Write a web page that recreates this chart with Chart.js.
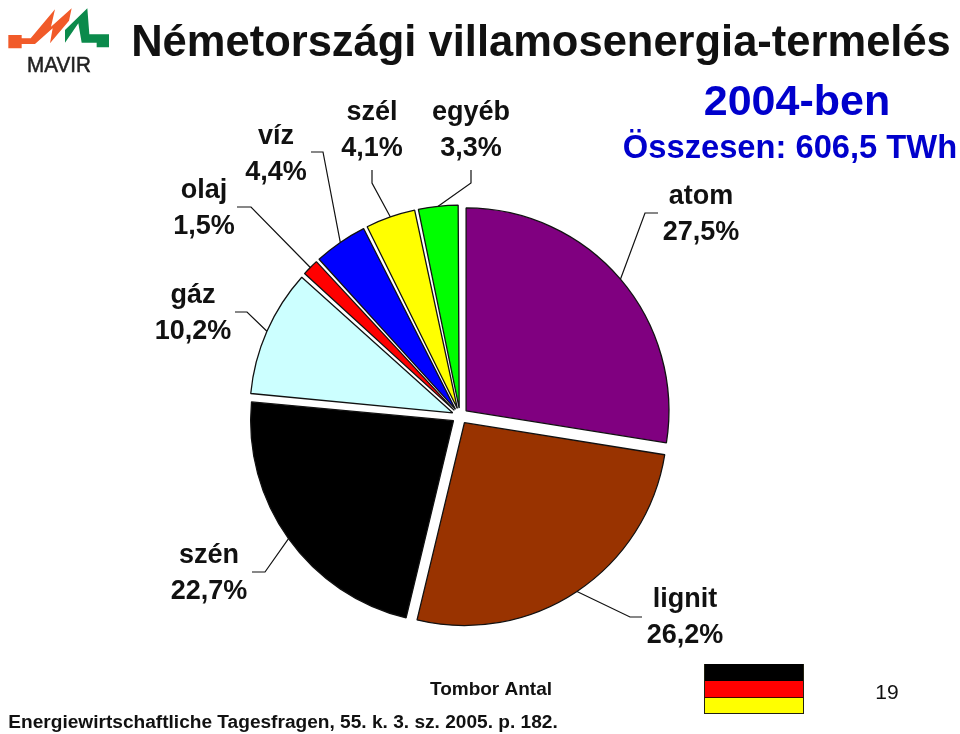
<!DOCTYPE html>
<html><head><meta charset="utf-8">
<script src="https://cdn.jsdelivr.net/npm/chart.js@4"></script>
<style>
html,body{margin:0;padding:0;background:#fff;width:960px;height:734px;overflow:hidden}
#wrap{position:relative;width:960px;height:734px}
canvas{position:absolute;left:0;top:0}
#logo{position:absolute;left:0;top:0}
.flag{position:absolute;left:704px;width:98px;border-left:1px solid #221;border-right:1px solid #221;box-sizing:content-box}
</style></head><body>
<div id="wrap">
<canvas id="c" width="960" height="734"></canvas>
<svg id="logo" width="130" height="90" viewBox="0 0 390 270">
<polygon fill="#f15a29" points="25,105 65,105 65,115 92,115 165,28 153,80 215,25 207,62 150,130 158,85 105,132 65,132 65,145 25,145"/>
<polygon fill="#0b8a4b" points="195,90 262,25 268,103 290,103 327,103 327,142 290,142 290,128 245,128 235,70 195,128"/>
<text x="177" y="215" text-anchor="middle" font-family="Liberation Sans" font-size="66" fill="#222" stroke="#222" stroke-width="1.5" textLength="192" lengthAdjust="spacingAndGlyphs">MAVIR</text>
</svg>
<div class="flag" style="top:664px;height:17px;background:#000"></div>
<div class="flag" style="top:681px;height:16px;background:#f00;border-bottom:1px solid #400"></div>
<div class="flag" style="top:698px;height:15px;background:#ff0;border-bottom:1px solid #221"></div>
</div>
<script>
const categories = ['atom','lignit','szén','gáz','olaj','víz','szél','egyéb'];
const shares = [27.5,26.2,22.7,10.2,1.5,4.4,4.1,3.3];
const sliceColors = ['#800080','#993300','#000000','#ccffff','#ff0000','#0000ff','#ffff00','#00ff00'];
const mainTitle = 'Németországi villamosenergia-termelés';
const yearTitle = '2004-ben';
const totalTitle = 'Összesen: 606,5 TWh';
const authorText = 'Tombor Antal';
const sourceText = 'Energiewirtschaftliche Tagesfragen, 55. k. 3. sz. 2005. p. 182.';
const pageNumber = '19';

const labelAnchors = [[701,197],[685,600],[209,556],[193,296],[204,191],[276,137],[372,113],[471,113]];
const leaderBends = [[[645,213],[658,213]],[[630,617],[642,617]],[[265,572],[252,572]],[[247,312],[235,312]],[[251,207],[237,207]],[[323,152],[311,152]],[[372,183],[372,170]],[[471,183],[471,170]]];

const F='"Liberation Sans", Arial, sans-serif';
// Chart.js grows narrow exploded slices by offset*(1-sin(angle)); keep every slice on one radius.
const radiusFix = (arc)=>arc.options.offset/4*(1-Math.sin(Math.min(Math.PI,arc.circumference)));
const annotate = {
  id:'annotate',
  afterDatasetsUpdate(chart){
    chart.getDatasetMeta(0).data.forEach(a=>{ a.outerRadius -= radiusFix(a); });
  },
  afterDatasetsDraw(chart){
    const ctx=chart.ctx, arcs=chart.getDatasetMeta(0).data;
    ctx.save();
    ctx.strokeStyle='#111'; ctx.lineWidth=1.2; ctx.lineJoin='miter';
    arcs.forEach((a,i)=>{
      const p=a.getProps(['x','y','startAngle','endAngle','outerRadius']);
      const mid=(p.startAngle+p.endAngle)/2, off=a.options.offset/4;
      const r=p.outerRadius+radiusFix(a)+off;
      ctx.beginPath();
      ctx.moveTo(p.x+Math.cos(mid)*r,p.y+Math.sin(mid)*r);
      leaderBends[i].forEach(q=>ctx.lineTo(q[0],q[1]));
      ctx.stroke();
    });
    ctx.textAlign='center'; ctx.textBaseline='middle';
    ctx.fillStyle='#111'; ctx.font='bold 27px '+F;
    categories.forEach((n,i)=>{
      const [x,y]=labelAnchors[i];
      ctx.fillText(n,x,y);
      ctx.fillText(shares[i].toFixed(1).replace('.',',')+'%',x,y+36);
    });
    ctx.fillStyle='#111'; ctx.font='bold 43.5px '+F;
    ctx.fillText(mainTitle,541,44);
    ctx.fillStyle='#0000cc'; ctx.font='bold 43px '+F;
    ctx.fillText(yearTitle,797,103);
    ctx.font='bold 32.7px '+F;
    ctx.fillText(totalTitle,790,149);
    ctx.fillStyle='#111'; ctx.font='bold 19px '+F;
    ctx.fillText(authorText,491,690);
    ctx.font='bold 19.1px '+F;
    ctx.fillText(sourceText,283,723);
    ctx.font='21px '+F;
    ctx.fillText(pageNumber,887,693);
    ctx.restore();
  }
};
new Chart(document.getElementById('c'),{
  type:'pie',
  data:{labels:categories,datasets:[{data:shares,backgroundColor:sliceColors,borderColor:'#111',borderWidth:1.3,offset:32,hoverOffset:32}]},
  options:{responsive:false,animation:false,
    layout:{padding:{left:240.5,right:280.5,top:196.5,bottom:98.5}},
    plugins:{legend:{display:false},tooltip:{enabled:false},title:{display:false}}},
  plugins:[annotate]
});
</script>
</body></html>
